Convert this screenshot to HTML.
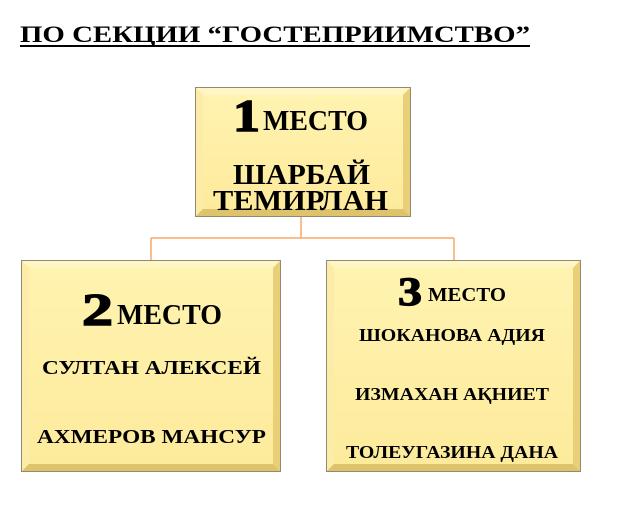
<!DOCTYPE html>
<html><head><meta charset="utf-8"><style>
html,body{margin:0;padding:0;background:#fff;}
svg{display:block}
svg text{font-family:"Liberation Serif","DejaVu Serif","Noto Serif CJK SC",serif;font-weight:700;}
</style></head><body>
<svg width="622" height="519" viewBox="0 0 622 519" xmlns="http://www.w3.org/2000/svg">
<defs>
<linearGradient id="g" x1="0" y1="0" x2="0" y2="1"><stop offset="0" stop-color="#fff3b0"/><stop offset="1" stop-color="#fdeb9c"/></linearGradient>
</defs>
<g stroke="#f5a86a" stroke-width="1.5" fill="none">
<path d="M301 216 V238 M151 238 H454 M151 238 V260 M454 238 V260"/>
</g>
<g>
<rect x="195.5" y="87.5" width="215" height="129" fill="#f7df86" stroke="#8f8a70"/>
<rect x="203" y="95" width="200" height="114" fill="url(#g)"/>
<path d="M196 88 L203 95 H403 L410 88Z" fill="#fff6c4"/>
<path d="M196 88 L203 95 V209 L196 216Z" fill="#fcecA8"/>
<path d="M410 88 L403 95 V209 L410 216Z" fill="#e8cf78"/>
<path d="M196 216 L203 209 H403 L410 216Z" fill="#ddc46c"/>
</g>
<g>
<rect x="21.5" y="260.5" width="259" height="211" fill="#f7df86" stroke="#8f8a70"/>
<rect x="29" y="268" width="244" height="196" fill="url(#g)"/>
<path d="M22 261 L29 268 H273 L280 261Z" fill="#fff6c4"/>
<path d="M22 261 L29 268 V464 L22 471Z" fill="#fcecA8"/>
<path d="M280 261 L273 268 V464 L280 471Z" fill="#e8cf78"/>
<path d="M22 471 L29 464 H273 L280 471Z" fill="#ddc46c"/>
</g>
<g>
<rect x="326.5" y="260.5" width="254" height="211" fill="#f7df86" stroke="#8f8a70"/>
<rect x="334" y="268" width="239" height="196" fill="url(#g)"/>
<path d="M327 261 L334 268 H573 L580 261Z" fill="#fff6c4"/>
<path d="M327 261 L334 268 V464 L327 471Z" fill="#fcecA8"/>
<path d="M580 261 L573 268 V464 L580 471Z" fill="#e8cf78"/>
<path d="M327 471 L334 464 H573 L580 471Z" fill="#ddc46c"/>
</g>
<g fill="#000">
<text x="20" y="42" font-size="23" textLength="510" lengthAdjust="spacingAndGlyphs">ПО СЕКЦИИ “ГОСТЕПРИИМСТВО”</text>
<rect x="20" y="45" width="510" height="2" fill="#000"/>
<text x="233" y="131" font-size="46" textLength="27" lengthAdjust="spacingAndGlyphs" stroke="#000" stroke-width="1.5">1</text>
<text x="263" y="130" font-size="28" textLength="105" lengthAdjust="spacingAndGlyphs">МЕСТО</text>
<text x="233" y="184" font-size="28" textLength="137" lengthAdjust="spacingAndGlyphs">ШАРБАЙ</text>
<text x="213" y="210" font-size="28" textLength="175" lengthAdjust="spacingAndGlyphs">ТЕМИРЛАН</text>
<text x="82" y="325" font-size="46" textLength="31" lengthAdjust="spacingAndGlyphs" stroke="#000" stroke-width="1.5">2</text>
<text x="117" y="324" font-size="28" textLength="105" lengthAdjust="spacingAndGlyphs">МЕСТО</text>
<text x="42" y="374" font-size="20" textLength="219" lengthAdjust="spacingAndGlyphs">СУЛТАН АЛЕКСЕЙ</text>
<text x="37" y="443" font-size="20" textLength="229" lengthAdjust="spacingAndGlyphs">АХМЕРОВ МАНСУР</text>
<text x="398" y="305" font-size="40" textLength="24" lengthAdjust="spacingAndGlyphs" stroke="#000" stroke-width="1.2">3</text>
<text x="428" y="301" font-size="20" textLength="78" lengthAdjust="spacingAndGlyphs">МЕСТО</text>
<text x="359" y="341" font-size="18" textLength="186" lengthAdjust="spacingAndGlyphs">ШОКАНОВА АДИЯ</text>
<text x="355" y="400" font-size="18" textLength="194" lengthAdjust="spacingAndGlyphs">ИЗМАХАН АҚНИЕТ</text>
<text x="346" y="458" font-size="18" textLength="212" lengthAdjust="spacingAndGlyphs">ТОЛЕУГАЗИНА ДАНА</text>
</g>
</svg>
</body></html>
